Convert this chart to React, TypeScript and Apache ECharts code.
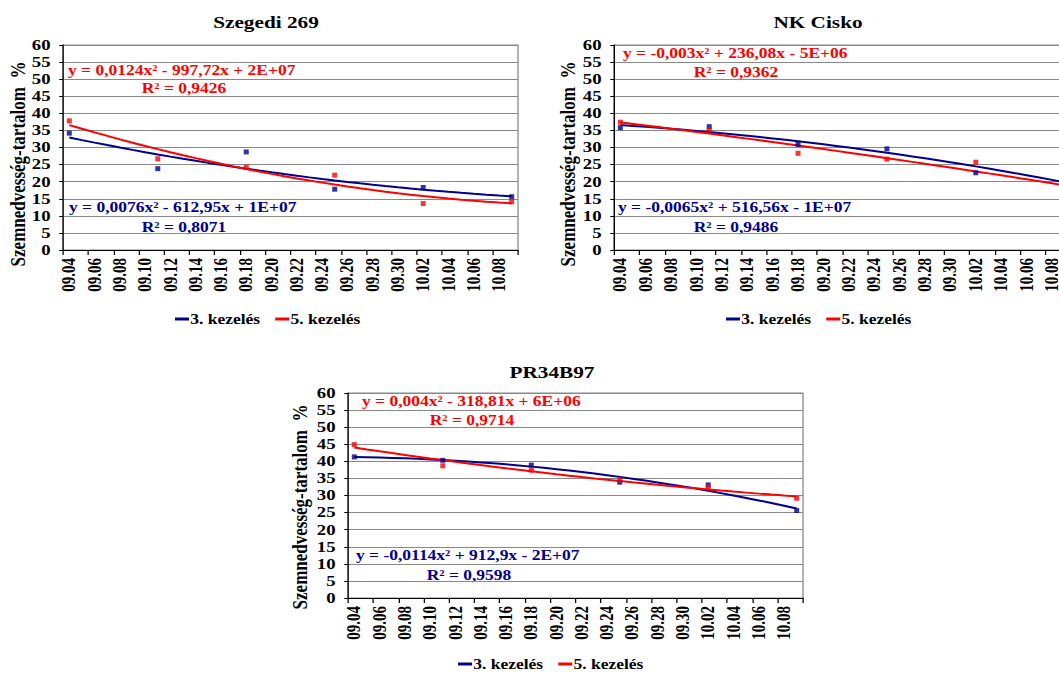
import React, { useEffect, useRef } from 'react';
import * as echarts from 'echarts';

// The reference picture is stretched horizontally; the chart is drawn at 1/S width and scaled back.
const S = 1.25;
const PAGE_W = 1059;
const PAGE_H = 673;
const DRAW_W = 1100; // drawn a little wider than the page so the right panel runs off the edge
const FONT = '"Liberation Serif", "Times New Roman", serif';
const BLUE = '#00008E';
const RED = '#FF0000';

// ---- data ----
const dayLabels = [
  '09.04', '09.05', '09.06', '09.07', '09.08', '09.09', '09.10', '09.11', '09.12', '09.13',
  '09.14', '09.15', '09.16', '09.17', '09.18', '09.19', '09.20', '09.21', '09.22', '09.23',
  '09.24', '09.25', '09.26', '09.27', '09.28', '09.29', '09.30', '10.01', '10.02', '10.03',
  '10.04', '10.05', '10.06', '10.07', '10.08', '10.09',
];
const sampleDates = ['09.04', '09.11', '09.18', '09.25', '10.02', '10.09'];
const seriesNames = ['3. kezelés', '5. kezelés'];

const szegedi3 = [34.2, 23.8, 28.7, 17.8, 18.3, 15.6];
const szegedi5 = [37.8, 26.7, 24.3, 21.9, 13.6, 14.1];
const cisko3 = [35.8, 36.1, 30.9, 29.6, 22.6, 20.7];
const cisko5 = [37.4, 35.2, 28.3, 26.6, 25.7, 17.6];
const pr3 = [41.3, 40.3, 38.9, 33.9, 33.1, 25.6];
const pr5 = [44.9, 38.7, 37.4, 34.6, 32.4, 29.2];

const chartTitles = ['Szegedi 269', 'NK Cisko', 'PR34B97'];
const eq5 = ['y = 0,0124x² - 997,72x + 2E+07', 'y = -0,003x² + 236,08x - 5E+06', 'y = 0,004x² - 318,81x + 6E+06'];
const r2of5 = ['R² = 0,9426', 'R² = 0,9362', 'R² = 0,9714'];
const eq3 = ['y = 0,0076x² - 612,95x + 1E+07', 'y = -0,0065x² + 516,56x - 1E+07', 'y = -0,0114x² + 912,9x - 2E+07'];
const r2of3 = ['R² = 0,8071', 'R² = 0,9486', 'R² = 0,9598'];
const yTitle = 'Szemnedvesség-tartalom  %';

const panelData = [
  [szegedi3, szegedi5],
  [cisko3, cisko5],
  [pr3, pr5],
];

// ---- layout (reference pixels) ----
const panels = [
  { left: 63, top: 45, width: 455, height: 205, titleX: 266, titleY: 22, yNameX: 17.5, yNameY: 164,
    eq5: [68, 70], r5: [184, 88], eq3: [69, 207], r3: [184, 227], legendLeft: 175, legendTop: 312 },
  { left: 614, top: 45, width: 457, height: 205, titleX: 818, titleY: 22, yNameX: 567.5, yNameY: 164,
    eq5: [623, 53], r5: [736, 72], eq3: [618, 207], r3: [736, 227], legendLeft: 726, legendTop: 312 },
  { left: 348, top: 393, width: 455, height: 205, titleX: 552, titleY: 372, yNameX: 300, yNameY: 507,
    eq5: [362, 401], r5: [472, 420], eq3: [356, 555], r3: [469, 575], legendLeft: 458, legendTop: 657 },
];

const sx = (px: number) => px / S;

// least-squares quadratic (Excel polynomial trendline, order 2)
function fitQuadratic(xs: number[], ys: number[]) {
  let s0 = 0, s1 = 0, s2 = 0, s3 = 0, s4 = 0, t0 = 0, t1 = 0, t2 = 0;
  for (let i = 0; i < xs.length; i++) {
    const x = xs[i], y = ys[i];
    s0 += 1; s1 += x; s2 += x * x; s3 += x * x * x; s4 += x * x * x * x;
    t0 += y; t1 += x * y; t2 += x * x * y;
  }
  const det3 = (m: number[][]) =>
    m[0][0] * (m[1][1] * m[2][2] - m[1][2] * m[2][1]) -
    m[0][1] * (m[1][0] * m[2][2] - m[1][2] * m[2][0]) +
    m[0][2] * (m[1][0] * m[2][1] - m[1][1] * m[2][0]);
  const A = [[s0, s1, s2], [s1, s2, s3], [s2, s3, s4]];
  const B = [t0, t1, t2];
  const D = det3(A);
  const coef = [0, 1, 2].map((k) => {
    const M = A.map((row, r) => row.map((v, c) => (c === k ? B[r] : v)));
    return det3(M) / D;
  });
  return (x: number) => coef[0] + coef[1] * x + coef[2] * x * x;
}

function buildOption() {
  const grid: any[] = [];
  const xAxis: any[] = [];
  const yAxis: any[] = [];
  const series: any[] = [];
  const legend: any[] = [];
  const graphic: any[] = [];
  const colors = [BLUE, RED];
  const idx = sampleDates.map((d) => dayLabels.indexOf(d));

  panels.forEach((p, i) => {
    grid.push({
      left: sx(p.left), top: p.top, width: sx(p.width), height: p.height,
      show: true, borderColor: '#888', borderWidth: 1, backgroundColor: 'transparent',
    });
    xAxis.push({
      type: 'category', gridIndex: i, data: dayLabels, boundaryGap: true,
      axisLine: { show: true, onZero: false, lineStyle: { color: '#000', width: 1 } },
      axisTick: { show: true, interval: 1, length: 5, lineStyle: { color: '#000' } },
      axisLabel: { interval: 1, rotate: 90, margin: 8, color: '#000', fontFamily: FONT, fontWeight: 'bold', fontSize: 15 },
      splitLine: { show: false },
    });
    yAxis.push({
      type: 'value', gridIndex: i, min: 0, max: 60, interval: 5,
      axisLine: { show: true, lineStyle: { color: '#000', width: 1 } },
      axisTick: { show: true, length: 3, lineStyle: { color: '#000' } },
      axisLabel: { margin: 10, color: '#000', fontFamily: FONT, fontWeight: 'bold', fontSize: 15 },
      splitLine: { show: true, lineStyle: { color: '#888', width: 1 } },
    });

    panelData[i].forEach((vals, k) => {
      const f = fitQuadratic(idx, vals);
      const trend: number[][] = [];
      for (let x = idx[0]; x <= idx[idx.length - 1]; x++) trend.push([x, f(x)]);
      series.push({
        name: seriesNames[k], type: 'line', xAxisIndex: i, yAxisIndex: i,
        data: trend, symbol: 'none', showSymbol: false, smooth: false,
        lineStyle: { color: colors[k], width: 2 }, itemStyle: { color: colors[k] }, z: 3,
      });
    });
    panelData[i].forEach((vals, k) => {
      series.push({
        name: seriesNames[k] + ' mért', type: 'scatter', xAxisIndex: i, yAxisIndex: i,
        data: sampleDates.map((d, j) => [d, vals[j]]),
        symbol: 'rect', symbolSize: [sx(5), 5], itemStyle: { color: colors[k] }, z: 5,
      });
    });

    legend.push({
      data: seriesNames, left: sx(p.legendLeft), top: p.legendTop, orient: 'horizontal',
      icon: 'rect', itemWidth: sx(14), itemHeight: 3, itemGap: sx(15), selectedMode: false, padding: 0,
      textStyle: { fontFamily: FONT, fontWeight: 'bold', fontSize: 14, color: '#000', padding: [0, 0, 0, -4] },
    });

    const txt = (text: string, x: number, y: number, color: string, size: number, align: string, extra: any = {}) => ({
      type: 'text', x: sx(x), y, ...extra,
      style: {
        text, fill: color, fontFamily: FONT, fontWeight: 'bold', fontSize: size,
        align, textAlign: align, verticalAlign: 'middle', textVerticalAlign: 'middle',
      },
    });
    graphic.push(txt(chartTitles[i], p.titleX, p.titleY, '#000', 17, 'center'));
    graphic.push(txt(yTitle, p.yNameX, p.yNameY, '#000', 17, 'center', { rotation: Math.PI / 2 }));
    graphic.push(txt(eq5[i], p.eq5[0], p.eq5[1], RED, 14, 'left'));
    graphic.push(txt(r2of5[i], p.r5[0], p.r5[1], RED, 14, 'center'));
    graphic.push(txt(eq3[i], p.eq3[0], p.eq3[1], BLUE, 14, 'left'));
    graphic.push(txt(r2of3[i], p.r3[0], p.r3[1], BLUE, 14, 'center'));
  });

  return { animation: false, backgroundColor: '#fff', grid, xAxis, yAxis, series, legend, graphic };
}

export default function App() {
  const ref = useRef<HTMLDivElement>(null);
  useEffect(() => {
    if (!ref.current) return;
    const chart = echarts.init(ref.current, undefined, { renderer: 'svg' });
    chart.setOption(buildOption() as any);
    return () => chart.dispose();
  }, []);
  return (
    <div
      style={{
        position: 'absolute', left: 0, top: 0, width: PAGE_W, height: PAGE_H,
        overflow: 'hidden', background: '#fff',
      }}
    >
      <div
        ref={ref}
        style={{
          position: 'absolute', left: 0, top: 0,
          width: DRAW_W / S, height: PAGE_H,
          transform: `scaleX(${S})`, transformOrigin: '0 0',
        }}
      />
    </div>
  );
}
